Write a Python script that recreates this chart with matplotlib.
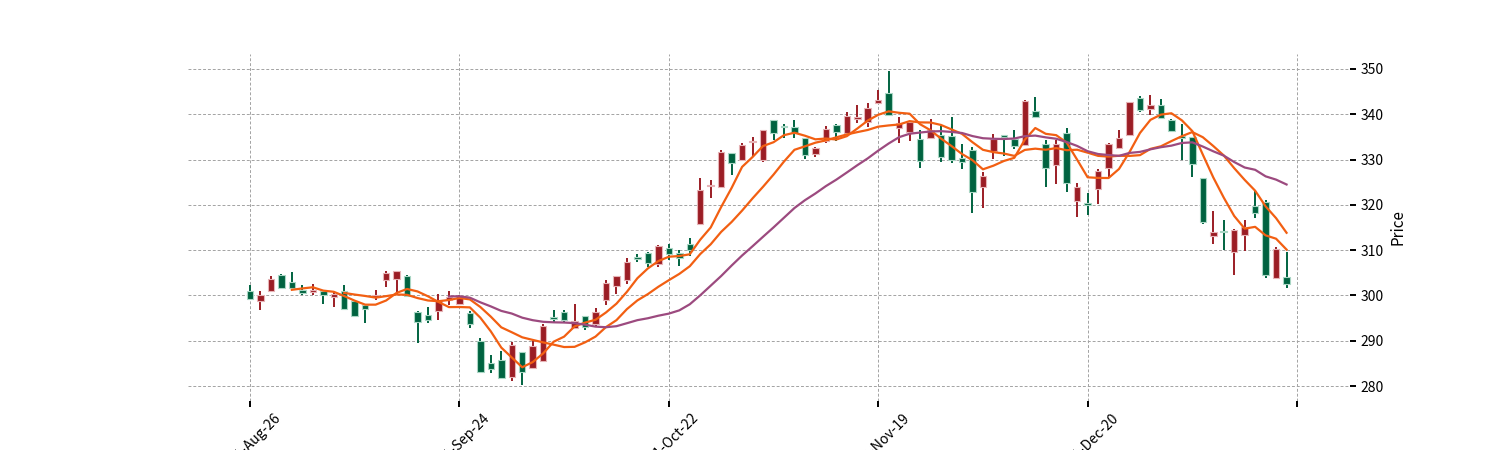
import matplotlib
matplotlib.use("Agg")
import matplotlib.pyplot as plt
import numpy as np
import pandas as pd

plt.rcParams['font.family'] = ['Noto Sans CJK SC', 'DejaVu Sans']

# ----------------------------------
# daily OHLC (index 0 = 2021-08-26)
# ----------------------------------
opens = [301.0, 298.8, 301.0, 304.6, 303.0, 301.1, 300.8, 300.9, 299.7, 300.9,
         298.7, 297.8, 299.6, 303.3, 303.7, 304.3, 296.4, 295.7, 296.5, 299.0,
         298.1, 296.2, 289.9, 285.0, 285.7, 282.0, 287.6, 283.9, 285.5, 295.3,
         296.4, 292.9, 295.4, 293.6, 299.0, 302.1, 303.4, 308.5, 309.4, 306.9,
         310.5, 309.4, 311.3, 315.7, 324.1, 324.0, 331.5, 330.0, 333.8, 329.9,
         338.7, 337.5, 337.1, 334.7, 331.2, 334.0, 337.6, 335.9, 338.9, 338.2,
         342.4, 344.7, 337.0, 336.0, 334.6, 334.8, 335.4, 335.1, 330.4, 332.2,
         324.0, 331.8, 335.4, 334.6, 333.3, 340.7, 333.4, 328.7, 335.9, 320.9,
         320.3, 323.4, 328.2, 332.6, 335.5, 343.5, 341.1, 342.0, 338.8, 335.2,
         335.0, 325.9, 313.1, 314.3, 309.5, 313.3, 319.8, 320.6, 303.9, 304.1]
highs = [302.3, 300.9, 304.2, 304.7, 305.2, 302.4, 302.6, 301.0, 301.0, 302.2,
         298.8, 297.9, 301.3, 305.3, 305.4, 304.4, 296.5, 297.5, 300.4, 301.0,
         300.1, 296.5, 290.7, 286.8, 287.8, 289.8, 287.6, 289.9, 293.6, 296.8,
         296.8, 298.0, 295.4, 297.3, 303.4, 304.3, 308.2, 309.1, 309.6, 311.1,
         311.3, 310.0, 312.6, 326.0, 325.5, 332.0, 331.5, 333.6, 334.9, 336.6,
         338.7, 337.9, 338.7, 334.7, 332.7, 337.3, 337.9, 340.6, 342.1, 342.4,
         345.3, 349.6, 339.4, 338.6, 336.5, 339.0, 337.5, 339.3, 333.5, 332.8,
         327.3, 335.7, 335.5, 336.5, 343.1, 343.8, 334.3, 334.3, 337.0, 324.9,
         322.7, 328.0, 333.7, 336.5, 342.7, 344.0, 344.3, 343.3, 339.0, 337.9,
         335.0, 326.0, 318.6, 316.6, 314.6, 316.6, 323.2, 321.0, 310.7, 309.6]
lows = [299.0, 296.7, 300.9, 301.5, 301.5, 300.2, 300.2, 298.2, 297.5, 296.9,
        295.4, 294.0, 299.0, 301.9, 300.4, 299.7, 289.6, 294.0, 294.5, 297.9,
        297.9, 292.9, 282.8, 282.8, 281.5, 281.1, 280.2, 283.8, 285.4, 294.2,
        294.2, 292.7, 292.3, 293.0, 297.9, 300.4, 302.6, 307.4, 306.3, 306.2,
        307.8, 306.5, 308.7, 315.6, 321.4, 323.9, 326.6, 329.9, 330.5, 329.5,
        334.3, 334.7, 334.7, 330.1, 330.5, 333.7, 334.2, 335.8, 338.0, 337.1,
        342.3, 339.6, 333.7, 334.0, 328.1, 334.6, 329.4, 329.3, 328.0, 318.1,
        319.2, 330.1, 330.8, 332.4, 333.2, 339.2, 324.0, 324.5, 322.9, 317.3,
        317.7, 320.1, 326.2, 332.5, 335.4, 340.5, 339.8, 338.9, 336.1, 329.8,
        326.2, 315.8, 311.4, 310.0, 304.6, 309.8, 317.0, 303.9, 303.7, 301.7]
closes = [299.1, 300.0, 303.7, 301.7, 301.7, 300.6, 301.3, 300.0, 300.4, 297.0,
          295.5, 296.9, 300.0, 305.0, 305.4, 299.8, 294.2, 294.6, 298.8, 299.7,
          299.9, 293.8, 283.2, 283.7, 281.8, 289.0, 283.0, 288.9, 293.3, 294.7,
          294.6, 294.3, 293.1, 296.4, 302.8, 304.3, 307.4, 308.1, 307.2, 310.9,
          309.1, 308.2, 310.0, 323.3, 324.4, 331.7, 329.3, 333.2, 334.2, 336.5,
          335.9, 337.1, 335.9, 330.9, 332.5, 336.8, 336.0, 339.6, 339.3, 341.3,
          343.2, 339.8, 338.0, 338.3, 329.7, 336.5, 330.6, 329.8, 329.5, 322.9,
          326.4, 334.6, 335.0, 333.0, 342.9, 339.3, 328.2, 333.5, 324.8, 324.0,
          319.9, 327.5, 333.4, 334.8, 342.6, 341.0, 342.0, 339.2, 336.3, 334.8,
          329.1, 316.1, 314.0, 314.0, 314.5, 315.1, 318.1, 304.6, 310.3, 302.5]

mav_periods = [5, 10, 20]
mav_colors = ['#f25f12', '#f25f12', '#9c4a7f']

tick_positions = [0, 20, 40, 60, 80, 100]
tick_labels = ['2021-Aug-26', '2021-Sep-24', '2021-Oct-22', '2021-Nov-19', '2021-Dec-20', '']

up_color = '#9b1d25'
down_color = '#006340'


def plot_candles(ax, o, h, l, c):
    o, h, l, c = map(np.asarray, (o, h, l, c))
    x = np.arange(len(o))
    up = c >= o
    colors = np.where(up, up_color, down_color)
    edges = np.where(up, '#e6b3b6', '#a9d6c4')
    ax.vlines(x, l, h, colors=colors, linewidth=1.4, zorder=2)
    ax.bar(x, np.abs(c - o), bottom=np.minimum(o, c), width=0.62,
           color=colors, edgecolor=edges, linewidth=0.8, zorder=3)


fig = plt.figure(figsize=(15, 4.5), dpi=100)
ax = fig.add_axes([0.125, 0.11, 0.775, 0.77])

plot_candles(ax, opens, highs, lows, closes)

# moving averages of the close
close_s = pd.Series(closes)
for period, col in zip(mav_periods, mav_colors):
    ax.plot(np.arange(len(closes)), close_s.rolling(period).mean(),
            color=col, linewidth=1.6, zorder=4)

ax.set_xlim(-5.97, 105.06)
ax.set_ylim(276.8, 353.3)

ax.set_xticks(tick_positions)
ax.set_xticklabels(tick_labels, rotation=45)
ax.set_yticks(np.arange(280, 351, 10))

ax.yaxis.tick_right()
ax.yaxis.set_label_position('right')
ax.set_ylabel('Price', fontsize=11)

ax.tick_params(axis='both', length=4, width=1.4, labelsize=10, colors='black')
ax.grid(True, color='#a3a3a3', linestyle=(0, (3, 2)), linewidth=0.7)
ax.set_axisbelow(True)
for sp in ax.spines.values():
    sp.set_visible(False)

fig.savefig('out.png', dpi=100)
